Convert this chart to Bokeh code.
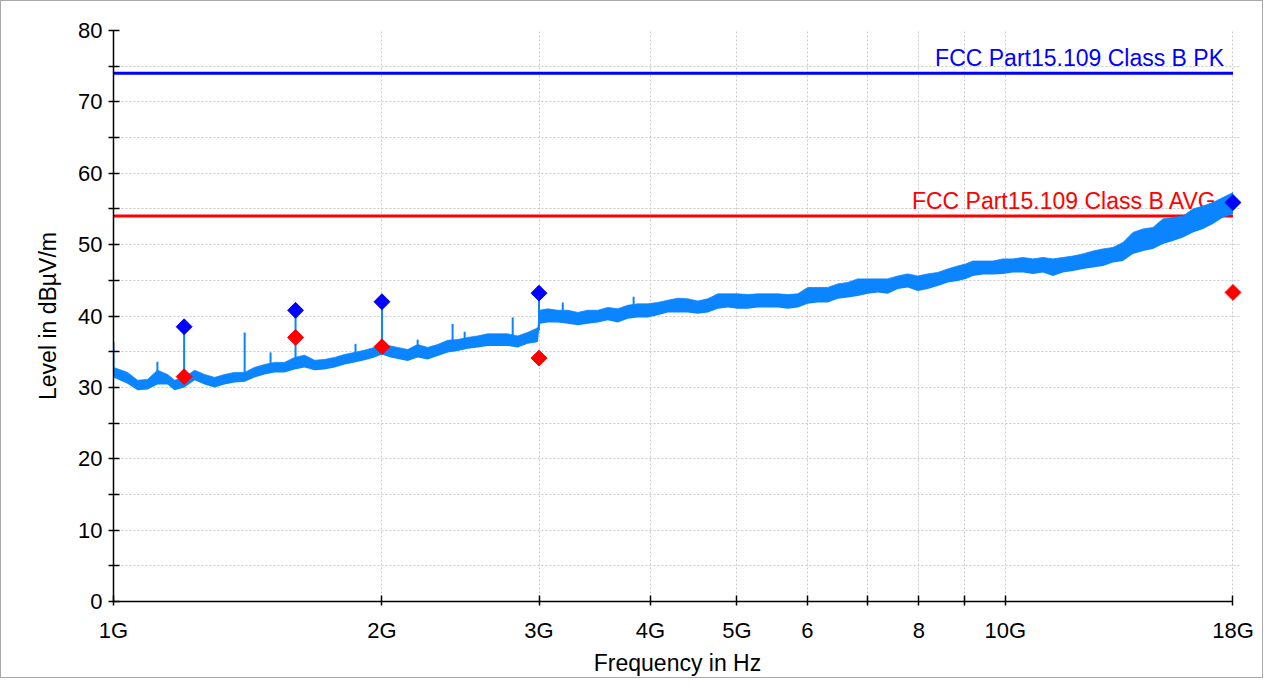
import numpy as np
from bokeh.plotting import figure
from bokeh.models import Range1d, FixedTicker
from bokeh.embed import file_html
from bokeh.resources import INLINE
from bokeh.core.properties import value

# ---- data (frequency in GHz, level in dBuV/m) ----
freq_ghz = [1.000, 1.037, 1.064, 1.092, 1.120, 1.150, 1.171, 1.201, 1.233, 1.265,
            1.298, 1.332, 1.367, 1.403, 1.439, 1.477, 1.516, 1.555, 1.596, 1.638,
            1.681, 1.724, 1.770, 1.816, 1.863, 1.912, 1.962, 1.998, 2.045, 2.137,
            2.193, 2.250, 2.309, 2.370, 2.432, 2.495, 2.561, 2.627, 2.696, 2.767,
            2.839, 2.913, 2.974, 2.992, 3.005, 3.069, 3.149, 3.232, 3.316, 3.403,
            3.492, 3.583, 3.677, 3.773, 3.872, 3.973, 4.077, 4.183, 4.293, 4.405,
            4.520, 4.639, 4.760, 4.884, 5.012, 5.143, 5.278, 5.416, 5.557, 5.703,
            5.852, 6.005, 6.162, 6.323, 6.488, 6.658, 6.832, 7.011, 7.194, 7.382,
            7.575, 7.773, 7.977, 8.185, 8.399, 8.619, 8.844, 9.029, 9.194, 9.435,
            9.681, 9.938, 10.20, 10.47, 10.74, 11.02, 11.31, 11.60, 11.91, 12.22,
            12.54, 12.87, 13.20, 13.55, 13.90, 14.27, 14.64, 15.02, 15.41, 15.82,
            16.23, 16.66, 17.09, 17.54, 18.00]
level_low = [31.4, 30.5, 29.6, 29.7, 30.4, 30.4, 29.6, 30.0, 31.0, 30.4,
             30.0, 30.4, 30.7, 30.8, 31.4, 31.8, 32.1, 32.1, 32.5, 32.8,
             32.4, 32.5, 32.8, 33.2, 33.5, 33.8, 34.2, 34.6, 34.2, 33.7,
             34.2, 33.9, 34.4, 34.9, 35.1, 35.4, 35.6, 35.8, 35.8, 35.8,
             35.6, 36.1, 36.3, 36.4, 38.9, 39.1, 39.1, 38.9, 38.7, 38.9,
             39.1, 39.4, 39.1, 39.6, 39.8, 39.8, 40.1, 40.5, 40.5, 40.5,
             40.3, 40.5, 41.0, 41.2, 41.0, 41.0, 41.2, 41.2, 41.2, 41.0,
             41.2, 41.7, 41.9, 41.9, 42.4, 42.6, 42.8, 43.1, 43.3, 43.1,
             43.8, 44.0, 43.5, 43.8, 44.2, 44.7, 44.9, 45.2, 45.6, 45.8,
             45.8, 45.9, 46.1, 46.1, 45.9, 46.1, 45.6, 46.1, 46.3, 46.6,
             46.8, 47.0, 47.5, 47.7, 48.7, 49.1, 49.4, 50.1, 50.5, 51.0,
             51.7, 52.2, 52.9, 53.8, 54.3]
level_high = [32.8, 32.1, 31.0, 31.1, 32.4, 31.8, 31.0, 31.4, 32.4, 31.8,
              31.4, 31.8, 32.1, 32.1, 32.8, 33.2, 33.5, 33.5, 34.2, 34.5,
              33.8, 33.9, 34.2, 34.6, 34.9, 35.2, 35.6, 35.9, 35.8, 35.3,
              36.0, 35.6, 36.0, 36.6, 36.7, 37.0, 37.2, 37.5, 37.5, 37.5,
              37.2, 37.7, 38.2, 38.4, 40.8, 41.0, 40.8, 40.8, 40.5, 40.8,
              40.8, 41.2, 41.0, 41.5, 41.7, 41.7, 41.9, 42.2, 42.5, 42.4,
              42.1, 42.4, 43.1, 43.1, 43.1, 43.0, 43.1, 43.1, 43.1, 43.0,
              43.1, 44.0, 44.0, 44.0, 44.5, 44.7, 45.2, 45.2, 45.2, 45.2,
              45.6, 45.9, 45.6, 45.9, 46.1, 46.6, 47.0, 47.3, 47.7, 47.7,
              47.7, 48.0, 48.0, 48.2, 48.0, 48.2, 48.0, 48.2, 48.4, 48.7,
              49.1, 49.4, 49.6, 50.3, 51.7, 52.2, 52.4, 53.6, 53.8, 54.0,
              55.0, 55.4, 55.9, 56.6, 57.3]

spike_freq = [1.000, 1.120, 1.403, 1.500, 1.868, 2.193, 2.400, 2.476, 2.803, 3.190, 3.830]
spike_base = [32.0, 31.5, 31.5, 32.5, 34.0, 35.0, 35.5, 36.0, 36.5, 40.0, 40.5]
spike_top = [36.3, 33.6, 37.7, 34.9, 36.1, 36.7, 38.9, 37.8, 39.8, 41.9, 42.7]

marker_freq = [1.2, 1.6, 2.0, 3.0, 18.0]
peak_level = [38.5, 40.8, 42.0, 43.2, 55.9]
avg_level = [31.5, 37.0, 35.7, 34.1, 43.3]
stem_base = [30.7, 33.2, 35.0, 38.0, 55.0]

limit_freq = [1.0, 18.0]
limit_pk = 74.0
limit_avg = 54.0
limit_pk_label = "FCC Part15.109 Class B PK"
limit_avg_label = "FCC Part15.109 Class B AVG"

x_ticks = [1, 2, 3, 4, 5, 6, 7, 8, 9, 10, 18]
x_tick_labels = ["1G", "2G", "3G", "4G", "5G", "6", "", "8", "", "10G", "18G"]
y_ticks = [0, 10, 20, 30, 40, 50, 60, 70, 80]
y_minor_ticks = [5, 15, 25, 35, 45, 55, 65, 75]

# ---- styling ----
FONT = "Liberation Sans"
TRACE = "#0A84FF"
BLUE = "#0000FF"
RED = "#FF0000"
GRID = "#c8c8c8"

p = figure(width=1263, height=678, x_axis_type="log",
           x_range=Range1d(1, 18.4), y_range=Range1d(0, 80),
           output_backend="svg", toolbar_location=None,
           min_border_left=112, min_border_right=23,
           min_border_top=29, min_border_bottom=78)
p.styles = {"border": "1px solid #a8a8a8"}
p.outline_line_color = None
p.background_fill_color = "white"
p.border_fill_color = "white"

# axes
p.xaxis.ticker = FixedTicker(ticks=x_ticks)
p.xaxis.major_label_overrides = {t: l for t, l in zip(x_ticks, x_tick_labels)}
p.xaxis.bounds = (1, 18)
p.xaxis.major_tick_in = 6
p.xaxis.major_tick_out = 4
p.xaxis.major_label_standoff = 12
p.xaxis.axis_label = "Frequency in Hz"
p.xaxis.axis_label_standoff = 4

p.yaxis.ticker = FixedTicker(ticks=y_ticks, minor_ticks=y_minor_ticks)
p.yaxis.major_tick_in = 6
p.yaxis.major_tick_out = 5
p.yaxis.minor_tick_in = 6
p.yaxis.minor_tick_out = 5
p.yaxis.major_label_standoff = 6
p.yaxis.axis_label = "Level in dB\u00b5V/m"
p.yaxis.axis_label_standoff = 14

for ax in (p.xaxis, p.yaxis):
    ax.axis_line_color = "black"
    ax.axis_line_width = 1.5
    ax.major_tick_line_color = "black"
    ax.major_tick_line_width = 1.5
    ax.minor_tick_line_width = 1.5
    ax.major_label_text_font = FONT
    ax.major_label_text_font_size = "22px"
    ax.major_label_text_color = "black"
    ax.axis_label_text_font = FONT
    ax.axis_label_text_font_size = "23px"
    ax.axis_label_text_font_style = "normal"
    ax.axis_label_text_color = "black"
p.xaxis.minor_tick_line_color = None
p.yaxis.minor_tick_line_color = "black"

# grids
p.xgrid.grid_line_color = GRID
p.xgrid.grid_line_dash = "2 2"
p.ygrid.grid_line_color = GRID
p.ygrid.grid_line_dash = "2 2"
p.ygrid.minor_grid_line_color = GRID
p.ygrid.minor_grid_line_dash = "2 2"

# limit lines
p.line(limit_freq, [limit_pk] * 2, line_color=BLUE, line_width=3)
p.line(limit_freq, [limit_avg] * 2, line_color=RED, line_width=3)
p.text(x=[limit_freq[-1]], y=[limit_pk + 0.3], text=[limit_pk_label],
       x_offset=-9, text_align="right", text_baseline="bottom",
       text_font=value(FONT), text_font_size="23px", text_color=BLUE)
p.text(x=[limit_freq[-1]], y=[limit_avg + 0.35], text=[limit_avg_label],
       x_offset=-16, text_align="right", text_baseline="bottom",
       text_font=value(FONT), text_font_size="23px", text_color=RED)

# measured trace
p.varea(x=freq_ghz, y1=level_low, y2=level_high, fill_color=TRACE)
p.line(freq_ghz, level_high, line_color=TRACE, line_width=0.8)
p.segment(x0=spike_freq, y0=spike_base, x1=spike_freq, y1=spike_top,
          line_color=TRACE, line_width=2)
p.segment(x0=marker_freq, y0=stem_base, x1=marker_freq, y1=peak_level,
          line_color=TRACE, line_width=2)

# final measurement markers
p.scatter(marker_freq, avg_level, marker="square", angle=np.pi / 4, size=11.2,
          fill_color=RED, line_color=RED)
p.scatter(marker_freq, peak_level, marker="square", angle=np.pi / 4, size=11.2,
          fill_color=BLUE, line_color=BLUE)

open("out.html", "w").write(file_html(p, INLINE))
